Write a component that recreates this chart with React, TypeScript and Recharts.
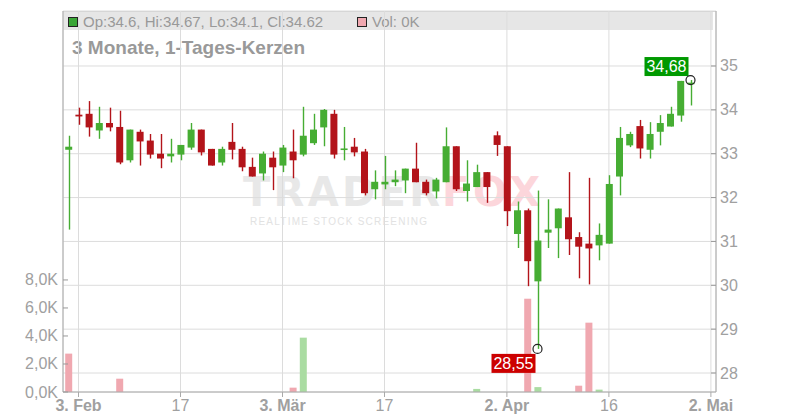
import React from 'react';
import { ComposedChart, Bar, Cell, XAxis, YAxis, CartesianGrid, ReferenceDot } from 'recharts';

// trading day index: 0 = 3 Feb 2025, first candle is 31 Jan
const firstDay = -1;
const open = [33.09, 33.89, 33.91, 33.53, 33.7, 33.61, 32.85, 33.5, 33.3, 33.0, 32.94, 32.98, 33.14, 33.55, 33.11, 32.8, 33.27, 33.11, 32.7, 32.55, 32.91, 32.73, 33.05, 32.98, 33.24, 33.6, 33.91, 33.1, 33.16, 33.05, 32.19, 32.3, 32.35, 32.39, 32.66, 32.36, 32.14, 32.35, 33.17, 32.15, 32.24, 32.58, 33.42, 33.17, 31.17, 31.71, 30.09, 31.2, 31.3, 31.55, 31.1, 30.95, 30.91, 30.95, 32.48, 33.19, 33.63, 33.09, 33.5, 33.62, 33.87, 34.6];
const high = [33.41, 34.05, 34.2, 34.07, 34.05, 33.98, 33.55, 33.55, 33.45, 33.45, 33.34, 33.2, 33.7, 33.55, 33.11, 33.16, 33.7, 33.16, 32.91, 33.05, 33.05, 33.2, 33.55, 34.07, 33.91, 34.02, 34.0, 33.61, 33.36, 33.11, 32.62, 32.95, 32.62, 32.66, 33.25, 32.41, 32.45, 33.6, 33.17, 32.85, 32.75, 32.58, 33.51, 33.17, 31.91, 31.75, 32.16, 31.96, 31.75, 32.58, 31.21, 32.45, 31.41, 32.51, 33.61, 33.5, 33.77, 33.72, 33.88, 34.07, 34.66, 34.68];
const low = [31.27, 33.66, 33.39, 33.34, 33.51, 32.76, 32.8, 32.73, 32.89, 32.67, 32.8, 32.85, 33.09, 32.96, 32.73, 32.73, 32.87, 32.6, 32.48, 32.39, 32.17, 32.58, 32.44, 32.94, 33.2, 33.17, 32.89, 32.85, 32.94, 32.05, 31.96, 32.19, 32.26, 32.1, 32.35, 32.05, 31.98, 32.35, 32.15, 31.91, 32.24, 31.88, 32.95, 31.35, 30.85, 29.98, 28.55, 30.85, 30.62, 30.69, 30.16, 30.02, 30.57, 30.95, 32.05, 33.15, 32.89, 32.89, 33.19, 33.62, 33.73, 34.1];
const close = [33.16, 33.85, 33.6, 33.7, 33.6, 32.8, 33.55, 33.28, 32.98, 32.89, 33.0, 33.2, 33.55, 33.03, 32.73, 33.11, 33.09, 32.69, 32.48, 33.0, 32.69, 33.14, 32.85, 33.41, 33.55, 34.0, 32.98, 33.12, 33.03, 32.1, 32.36, 32.36, 32.41, 32.66, 32.35, 32.1, 32.41, 33.17, 32.19, 32.32, 32.58, 32.24, 33.2, 31.69, 31.71, 30.55, 31.02, 31.27, 31.75, 31.05, 30.88, 30.84, 31.15, 32.31, 33.36, 33.45, 33.12, 33.45, 33.7, 33.91, 34.66, 34.62];
const volume = [2740, 0, 0, 0, 0, 950, 0, 0, 0, 0, 0, 0, 0, 0, 0, 0, 0, 0, 0, 0, 0, 0, 310, 3880, 0, 0, 0, 0, 0, 0, 0, 0, 0, 0, 0, 0, 0, 0, 0, 0, 220, 0, 0, 0, 0, 6660, 350, 0, 0, 0, 450, 4950, 170, 0, 0, 0, 0, 0, 0, 0, 0, 0];
const closeBefore = 33.4;

const tickDays = [0, 10, 20, 30, 42, 52, 62];
const tickLabels = ['3. Feb', '17', '3. Mär', '17', '2. Apr', '16', '2. Mai'];
const monthLabels = ['3. Feb', '3. Mär', '2. Apr', '2. Mai'];
const priceTicks = [28, 29, 30, 31, 32, 33, 34, 35];
const volTicks = [0, 2000, 4000, 6000, 8000];

const GREEN = '#46ad33';
const RED = '#b3141a';
const font = '"Liberation Sans", Arial, sans-serif';

const data = open.map((o, i) => ({
  day: firstDay + i,
  open: o, high: high[i], low: low[i], close: close[i],
  range: [low[i], high[i]],
  volume: volume[i],
  volUp: close[i] >= (i ? close[i - 1] : closeBefore),
}));

const hiPt = data.reduce((a, b) => (b.high > a.high ? b : a));
const loPt = data.reduce((a, b) => (b.low < a.low ? b : a));
const fmtNum = (v: number) => v.toFixed(2).replace('.', ',');

function Candle(props: any) {
  const { x, y, width, height, payload } = props;
  const { open, high, low, close } = payload;
  const k = height / (high - low);
  const py = (v: number) => y + (high - v) * k;
  const color = close >= open ? GREEN : RED;
  const top = py(Math.max(open, close));
  const bot = py(Math.min(open, close));
  const cx = Math.round(x + width / 2) + 0.5;
  return (
    <g>
      <line x1={cx} x2={cx} y1={y} y2={y + height} stroke={color} strokeWidth={1.4} />
      <rect x={x} y={top} width={width} height={Math.max(bot - top, 1.6)} fill={color} />
    </g>
  );
}

function VolTick({ x, y, payload }: any) {
  return (
    <g>
      <line x1={x + 5} x2={x + 10} y1={y} y2={y} stroke="#999" />
      <text x={x} y={y} dy={5.5} textAnchor="end" fontSize={16} fill="#a0a0a0" fontFamily={font}>
        {(payload.value / 1000).toFixed(1).replace('.', ',') + 'K'}
      </text>
    </g>
  );
}

function PriceTick({ x, y, payload }: any) {
  return (
    <g>
      <line x1={x - 9} x2={x - 4} y1={y} y2={y} stroke="#999" />
      <text x={x} y={y} dy={5.5} textAnchor="start" fontSize={16} fill="#a0a0a0" fontFamily={font}>
        {payload.value}
      </text>
    </g>
  );
}

function DayTick({ x, y, payload }: any) {
  const label = tickLabels[tickDays.indexOf(payload.value)];
  const bold = monthLabels.includes(label);
  return (
    <text x={x} y={y} dy={12} textAnchor="middle" fontSize={16} fontWeight={bold ? 700 : 400} fill="#a0a0a0" fontFamily={font}>
      {label}
    </text>
  );
}

function HighMark({ cx, cy }: any) {
  return (
    <g>
      <rect x={cx - 46} y={cy - 23} width={44} height={19} fill="#009900" />
      <text x={cx - 24} y={cy - 8} textAnchor="middle" fontSize={16} fill="#fff" fontFamily={font}>{fmtNum(hiPt.high)}</text>
      <circle cx={cx} cy={cy} r={4.5} fill="none" stroke="#222" strokeWidth={1.2} />
    </g>
  );
}

function LowMark({ cx, cy }: any) {
  return (
    <g>
      <rect x={cx - 46} y={cy + 5} width={44} height={19} fill="#cc0000" />
      <text x={cx - 24} y={cy + 20} textAnchor="middle" fontSize={16} fill="#fff" fontFamily={font}>{fmtNum(loPt.low)}</text>
      <circle cx={cx} cy={cy} r={4.5} fill="none" stroke="#222" strokeWidth={1.2} />
    </g>
  );
}

export default function App() {
  return (
    <div style={{ position: 'absolute', left: 0, top: 0, width: 800, height: 420, background: '#fff' }}>
      <svg width={800} height={420} style={{ position: 'absolute', left: 0, top: 0 }} fontFamily={font}>
        <rect x={63} y={11.5} width={650} height={18.5} fill="#e6e6e6" />
        <line x1={63} x2={716} y1={11.5} y2={11.5} stroke="#d0d0d0" />
        <rect x={68.5} y={17.5} width={9} height={9} fill="#3aa637" stroke="#222" />
        <text x={83} y={26.5} fontSize={15} fill="#999">Op:34.6, Hi:34.67, Lo:34.1, Cl:34.62</text>
        <rect x={357.5} y={17.5} width={9} height={9} fill="#f0a8b0" stroke="#222" />
        <text x={372} y={26.5} fontSize={15} fill="#999">Vol: 0K</text>
        <text x={72} y={54} fontSize={19} fontWeight={700} fill="#999">3 Monate, 1-Tages-Kerzen</text>
        <text x={243} y={206} fontSize={40} fontWeight={700} fill="#e8e8e8" textLength={197} fontFamily='"DejaVu Sans", sans-serif'>TRADER</text>
        <text x={442} y={206} fontSize={40} fontWeight={700} fill="#fcd6db" textLength={98} fontFamily='"DejaVu Sans", sans-serif'>FOX</text>
        <text x={250} y={225} fontSize={10} fill="#e2e2e2" textLength={177}>REALTIME STOCK SCREENING</text>
      </svg>
      <div style={{ position: 'absolute', left: 0, top: 0 }}>
        <ComposedChart width={800} height={420} data={data} margin={{ top: 11, right: 0, bottom: 0, left: 0 }} style={{ fontFamily: font }}>
          <CartesianGrid xAxisId="d" yAxisId="price" stroke="#dcdcdc" />
          <XAxis xAxisId="d" dataKey="day" type="number" domain={[-1.52, 62.5]} allowDataOverflow ticks={tickDays}
            height={28} stroke="#aaa" tickSize={5} tickMargin={2} tick={<DayTick />} interval={0} />
          <XAxis xAxisId="v" dataKey="day" type="number" domain={[-1.52, 62.5]} allowDataOverflow hide />
          <YAxis yAxisId="vol" orientation="left" width={63} domain={[0, 27200]} allowDataOverflow ticks={volTicks}
            stroke="#aaa" tickLine={false} tickSize={0} tickMargin={5} tick={<VolTick />} interval={0} />
          <YAxis yAxisId="price" orientation="right" width={84} domain={[27.567, 36.254]} allowDataOverflow ticks={priceTicks}
            stroke="#aaa" tickLine={false} tickSize={0} tickMargin={4} tick={<PriceTick />} interval={0} />
          <Bar xAxisId="v" yAxisId="vol" dataKey="volume" barSize={7} isAnimationActive={false}>
            {data.map((d, i) => <Cell key={i} fill={d.volUp ? '#aadca2' : '#f0a8b0'} />)}
          </Bar>
          <Bar xAxisId="d" yAxisId="price" dataKey="range" barSize={7} shape={<Candle />} isAnimationActive={false} />
          <ReferenceDot xAxisId="d" yAxisId="price" x={loPt.day} y={loPt.low} shape={<LowMark />} />
          <ReferenceDot xAxisId="d" yAxisId="price" x={hiPt.day} y={hiPt.high} shape={<HighMark />} />
        </ComposedChart>
      </div>
    </div>
  );
}
